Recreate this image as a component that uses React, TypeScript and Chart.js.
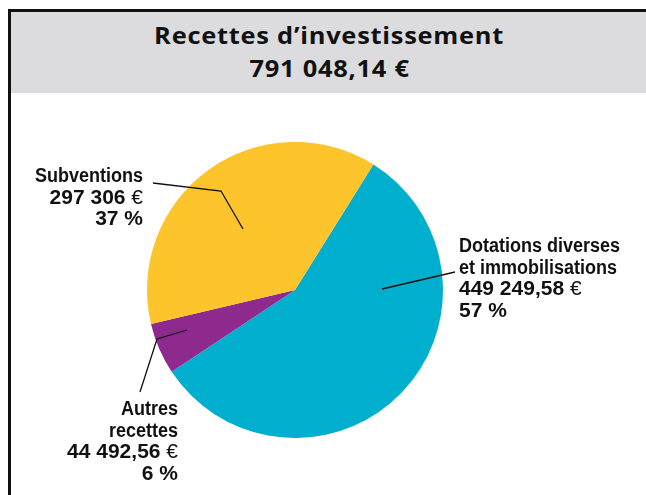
import React, { useEffect, useRef } from "react";
import { Chart, registerables } from "chart.js";

Chart.register(...registerables);

const title = "Recettes d’investissement";
const totalLabel = "791 048,14 €";
const categories = ["Dotations diverses et immobilisations", "Autres recettes", "Subventions"];
const values = [449249.58, 44492.56, 297306];
const nameLines = [["Dotations diverses", "et immobilisations"], ["Autres", "recettes"], ["Subventions"]];
const amountLabels = ["449 249,58", "44 492,56", "297 306"];
const percentLabels = ["57 %", "6 %", "37 %"];
const colors = ["#00AECD", "#8E2A8D", "#FDC42B"];

// label layout relative to the pie centre, in units of a 148px radius
const labelLayout = [
  { line: [[87, -1], [160, -18]], align: "left", x: 164, y0: -38 },
  { line: [[-108, 40], [-138, 49], [-155, 102]], align: "right", x: -117, y0: 125 },
  { line: [[-52, -61], [-74, -99], [-142, -107]], align: "right", x: -152, y0: -108 },
];

const FONT = "'Liberation Sans', Arial, sans-serif";
const TEXT_SCALE = 0.9;
const NUM_SCALE = 1.05;

const labelPlugin = {
  id: "pieLabels",
  afterDraw(chart: any) {
    const ctx = chart.ctx;
    const meta = chart.getDatasetMeta(0);
    const arc = meta.data[0];
    if (!arc) return;
    const cx = arc.x, cy = arc.y, s = arc.outerRadius / 148;
    ctx.save();
    labelLayout.forEach((L, i) => {
      ctx.beginPath();
      ctx.strokeStyle = "#111";
      ctx.lineWidth = 1.3;
      L.line.forEach((p, j) => {
        const px = cx + p[0] * s, py = cy + p[1] * s;
        if (j === 0) ctx.moveTo(px, py); else ctx.lineTo(px, py);
      });
      ctx.stroke();
      const lines: { bold: string; light?: string; sx: number }[] = [];
      nameLines[i].forEach((t) => lines.push({ bold: t, sx: TEXT_SCALE }));
      lines.push({ bold: amountLabels[i] + " ", light: "€", sx: NUM_SCALE });
      lines.push({ bold: percentLabels[i], sx: NUM_SCALE });
      ctx.fillStyle = "#111";
      ctx.textBaseline = "alphabetic";
      ctx.textAlign = "left";
      const bold = `bold 20px ${FONT}`;
      const light = `normal 20px ${FONT}`;
      lines.forEach((ln, k) => {
        const y = cy + (L.y0 + k * 21.5) * s;
        ctx.font = bold;
        const wb = ctx.measureText(ln.bold).width;
        ctx.font = light;
        const wl = ln.light ? ctx.measureText(ln.light).width : 0;
        const total = (wb + wl) * ln.sx;
        const x0 = L.align === "left" ? cx + L.x * s : cx + L.x * s - total;
        ctx.save();
        ctx.translate(x0, y);
        ctx.scale(ln.sx, 1);
        ctx.font = bold;
        ctx.fillText(ln.bold, 0, 0);
        if (ln.light) {
          ctx.font = light;
          ctx.fillText(ln.light, wb, 0);
        }
        ctx.restore();
      });
    });
    ctx.restore();
  },
};

export default function App() {
  const ref = useRef<HTMLCanvasElement>(null);
  useEffect(() => {
    if (!ref.current) return;
    const chart = new Chart(ref.current, {
      type: "pie",
      data: {
        labels: categories,
        datasets: [{ data: values, backgroundColor: colors, borderWidth: 0 }],
      },
      options: {
        responsive: false,
        animation: false,
        rotation: 32,
        layout: { padding: { top: 142, bottom: 57, left: 147, right: 203 } },
        plugins: { legend: { display: false }, tooltip: { enabled: false }, title: { display: false } },
      },
      plugins: [labelPlugin],
    });
    return () => chart.destroy();
  }, []);

  const titleLine: React.CSSProperties = {
    display: "inline-block",
    transform: "scaleX(1.06)",
    transformOrigin: "center",
    letterSpacing: "0.7px",
    whiteSpace: "nowrap",
  };

  return (
    <div style={{ position: "fixed", left: 0, top: 0, width: 646, height: 495, background: "#fff", overflow: "hidden" }}>
      <canvas ref={ref} width={646} height={495} style={{ position: "absolute", left: 0, top: 0, width: 646, height: 495 }} />
      <div style={{ position: "absolute", left: 8, top: 9, width: 638, height: 3, background: "#111" }} />
      <div style={{ position: "absolute", left: 8, top: 9, width: 3, height: 486, background: "#111" }} />
      <div
        style={{
          position: "absolute",
          left: 11,
          top: 12,
          width: 635,
          height: 81,
          background: "#DCDCDE",
          fontFamily: "'Open Sans', sans-serif",
          fontWeight: 700,
          fontSize: 24,
          color: "#111",
          textAlign: "center",
          lineHeight: "32.5px",
          paddingTop: 7,
          paddingLeft: 2,
          boxSizing: "border-box",
        }}
      >
        <div><span style={titleLine}>{title}</span></div>
        <div><span style={titleLine}>{totalLabel}</span></div>
      </div>
    </div>
  );
}
